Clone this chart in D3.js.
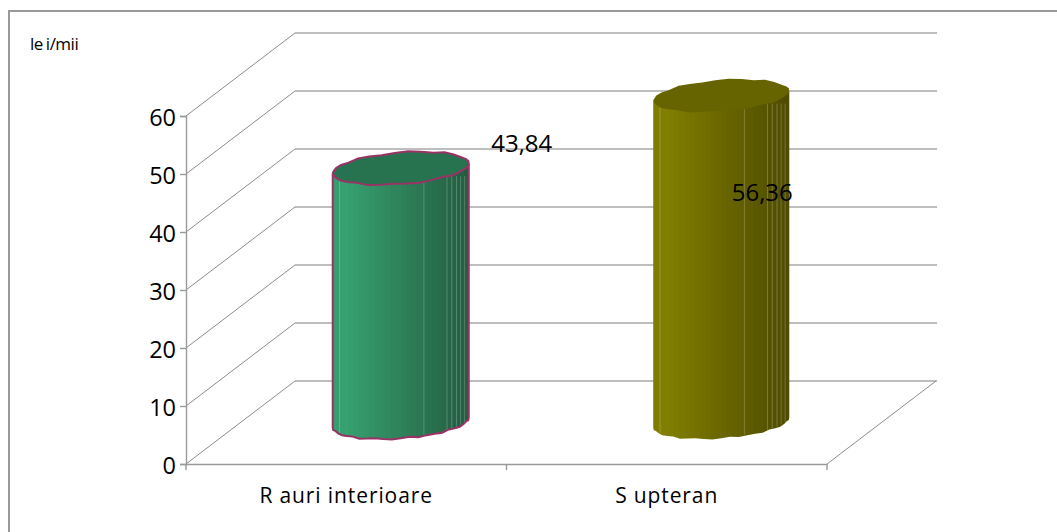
<!DOCTYPE html>
<html>
<head>
<meta charset="utf-8">
<script src="https://cdn.jsdelivr.net/npm/d3@7"></script>
<style>
html, body { margin: 0; padding: 0; background: #fff; }
svg { display: block; }
text { font-family: "Open Sans", sans-serif; fill: #000; }
</style>
</head>
<body>
<div id="chart-area"></div>
<script>
// Data
var categories = ["Rauri interioare", "Supteran"];
var values = [43.84, 56.36];
var valueLabels = ["43,84", "56,36"];
var yTicks = [0, 10, 20, 30, 40, 50, 60];
var unitLabel = "lei/mii";

// SVG Size
var width = 1057,
	height = 532;

// front plane of the box and how far the back wall is shifted
var x0 = 186, x1 = 827, yBottom = 464, yTop = 116;
var depthX = 109, depthY = -83;

var sideColors = [["#37a271", "#235c3f"], ["#827f00", "#4d4b00"]];
var topColors = ["#27734f", "#666400"];
var strokeColors = ["#993366", "none"];
var labelOffsets = [[121, -24], [41, 97]];

// where the pale facet lines sit across a cylinder (0 = left, 1 = right)
var facetLines = [0.05, 0.67, 0.84, 0.875, 0.91, 0.94, 0.97];
// small dents of the rough ellipse outline in the reference
var dents = [0, 1, -1, 0, 1, 0, -1, 1, 0, -1, 0, 1, 0, -1, 1, 0];

var svg = d3.select("#chart-area").append("svg")
	.attr("width", width)
	.attr("height", height);

var defs = svg.append("defs");

var xScale = d3.scaleBand().domain(categories).range([x0, x1]);
var yScale = d3.scaleLinear().domain([0, 60]).range([yBottom, yTop]);

// outer frame: only its top and left edges are inside the picture
svg.append("path")
	.attr("d", "M9,532V11H1057")
	.attr("fill", "none").attr("stroke", "#999").attr("stroke-width", 2);

// gridlines: back wall and left wall
var grid = svg.append("g").attr("fill", "none");
grid.selectAll("line.back")
	.data(yTicks)
	.enter().append("line")
	.attr("class", "back")
	.attr("stroke", "#a8a8a8").attr("stroke-width", 1.4)
	.attr("x1", x0 + depthX).attr("x2", x1 + depthX + 1)
	.attr("y1", function(d) { return yScale(d) + depthY; })
	.attr("y2", function(d) { return yScale(d) + depthY; });
grid.selectAll("line.side")
	.data(yTicks)
	.enter().append("line")
	.attr("class", "side")
	.attr("stroke", "#8c8c8c")
	.attr("x1", x0).attr("x2", x0 + depthX)
	.attr("y1", function(d) { return yScale(d); })
	.attr("y2", function(d) { return yScale(d) + depthY; });
grid.append("line")
	.attr("stroke", "#8c8c8c")
	.attr("x1", x1).attr("x2", x1 + depthX)
	.attr("y1", yBottom).attr("y2", yBottom + depthY);

// axes
var yAxis = d3.axisLeft(yScale).tickValues(yTicks).tickSize(6).tickPadding(4);
var gy = svg.append("g").attr("transform", "translate(" + x0 + ",0)").call(yAxis);
gy.selectAll("text").style("font-size", "23.5px").attr("dy", "0.4em");

var xAxis = d3.axisBottom(xScale).tickSize(0).tickPadding(24);
var gx = svg.append("g").attr("transform", "translate(0," + yBottom + ")").call(xAxis);
gx.selectAll(".tick text").style("font-size", "21px").style("letter-spacing", "0.9px")
	.text(null)
	.each(function(d) {
		// first letter stands apart in the reference
		d3.select(this).append("tspan").text(d.charAt(0));
		d3.select(this).append("tspan").attr("dx", 6).text(d.slice(1));
	});
gx.selectAll(".tick line").remove();
gx.selectAll("line.edge")
	.data([x0, x0 + xScale.step(), x1])
	.enter().append("line")
	.attr("class", "edge")
	.attr("x1", function(d) { return d; }).attr("x2", function(d) { return d; })
	.attr("y1", 0).attr("y2", 6)
	.attr("stroke", "#999").attr("stroke-width", 1.4);
gy.selectAll("path.domain, line").attr("stroke", "#999").attr("stroke-width", 1.4);
gx.selectAll("path.domain").attr("stroke", "#999").attr("stroke-width", 1.6);

// cylinders
var rA = 64.9, rB = 20.4, rC = 16.5;
var tilt = Math.atan2(rB, rA);

function ringPoint(cx, cy, t, n) {
	var dent = dents[Math.abs(n) % dents.length];
	return [cx + rA * Math.cos(t) + rB * Math.sin(t),
		cy - rC * Math.sin(t) + dent * 0.7];
}

var bars = svg.selectAll("g.bar")
	.data(values)
	.enter().append("g")
	.attr("class", "bar");

bars.each(function(v, i) {
	var g = d3.select(this);
	var cx = xScale(categories[i]) + xScale.bandwidth() / 2 + depthX / 2;
	var yBase = yScale(0) + depthY / 2;
	var yHead = yScale(v) + depthY / 2;
	var stripColor = d3.scaleLinear()
		.domain([0, 0.08, 1])
		.range([d3.interpolateRgb(sideColors[i][0], sideColors[i][1])(0.08), sideColors[i][0], sideColors[i][1]]);

	// stepped shading across the side
	var bands = 26;
	var grad = defs.append("linearGradient").attr("id", "side" + i);
	d3.range(bands).forEach(function(k) {
		var c = stripColor((k + 0.5) / bands);
		grad.append("stop").attr("offset", k / bands).attr("stop-color", c);
		grad.append("stop").attr("offset", (k + 1) / bands).attr("stop-color", c);
	});

	// side follows the front half of the ring
	var n = 24;
	var front = d3.range(n + 1).map(function(k) {
		return ringPoint(cx, yBase, Math.PI + tilt + (Math.PI * k) / n, k);
	});
	var first = ringPoint(cx, yHead, Math.PI + tilt, 0);
	var last = ringPoint(cx, yHead, 2 * Math.PI + tilt, 0);
	g.append("path")
		.attr("d", d3.line()([first].concat(front, [last])))
		.attr("fill", "url(#side" + i + ")")
		.attr("stroke", strokeColors[i])
		.attr("stroke-width", 2);

	// pale facet lines
	facetLines.forEach(function(f) {
		var lx = cx - 68 + 136 * f;
		var t = Math.PI + tilt + Math.acos(1 - 2 * f);
		g.append("line")
			.attr("x1", lx).attr("x2", lx)
			.attr("y1", yHead + 8).attr("y2", ringPoint(cx, yBase, t, 0)[1] - 1)
			.attr("stroke", "#fff").attr("stroke-opacity", 0.22);
	});

	// top ellipse
	var ring = d3.range(32).map(function(k) {
		return ringPoint(cx, yHead, (2 * Math.PI * k) / 32, k);
	});
	g.append("path")
		.attr("d", d3.line()(ring) + "Z")
		.attr("fill", topColors[i])
		.attr("stroke", strokeColors[i])
		.attr("stroke-width", 2);

	// value label
	g.append("text")
		.attr("x", cx + labelOffsets[i][0])
		.attr("y", yHead + labelOffsets[i][1] + 8)
		.attr("text-anchor", "middle")
		.style("font-size", "24px")
		.text(valueLabels[i]);
});

// unit label
svg.append("text")
	.attr("x", 30).attr("y", 50)
	.style("font-size", "17px")
	.style("letter-spacing", "-0.5px")
	.selectAll("tspan")
	.data([unitLabel.slice(0, 2), unitLabel.slice(2)])
	.enter().append("tspan")
	.attr("dx", function(d, i) { return i ? 3 : 0; })
	.text(function(d) { return d; });
</script>
</body>
</html>
